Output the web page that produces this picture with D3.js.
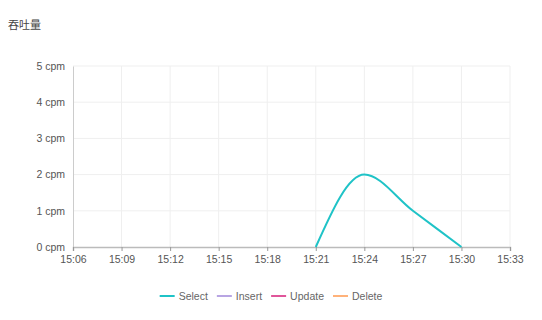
<!DOCTYPE html>
<html>
<head>
<meta charset="utf-8">
<script src="https://cdn.jsdelivr.net/npm/d3@7"></script>
<style>
  body { margin: 0; background: #fff; font-family: "Liberation Sans", Arial, "Noto Sans CJK SC", sans-serif; }
  .axis text { fill: #555; font-size: 10.5px; font-family: "Liberation Sans", Arial, sans-serif; }
</style>
</head>
<body>
<div id="chart"></div>
<script>
// data
const seriesNames = ['Select', 'Insert', 'Update', 'Delete'];
const seriesColors = ['#1fc3c7', '#b8a5e3', '#e0559a', '#ffb27a'];
const selectTimes = ['15:21', '15:24', '15:27', '15:30'];
const selectValues = [0, 2, 1, 0];
const xTickLabels = ['15:06', '15:09', '15:12', '15:15', '15:18', '15:21', '15:24', '15:27', '15:30', '15:33'];
const yTickValues = [0, 1, 2, 3, 4, 5];

const W = 542, H = 320;
const margin = { top: 66, right: 32, bottom: 73, left: 73 };
const width = W - margin.left - margin.right;
const height = H - margin.top - margin.bottom;

const parse = d3.timeParse('%H:%M');

const svg = d3.select('#chart').append('svg')
  .attr('width', W)
  .attr('height', H);

// title
svg.append('text')
  .attr('x', 8)
  .attr('y', 29)
  .attr('font-size', '11px')
  .attr('fill', '#444')
  .attr('font-family', '"Noto Sans CJK SC", sans-serif')
  .text('吞吐量');

const g = svg.append('g')
  .attr('transform', `translate(${margin.left}, ${margin.top})`);

const x = d3.scaleTime()
  .domain([parse(xTickLabels[0]), parse(xTickLabels[xTickLabels.length - 1])])
  .range([0, width]);

const y = d3.scaleLinear()
  .domain([0, 5])
  .range([height, 0]);

const xTicks = xTickLabels.map(parse);

// grid
g.append('g')
  .selectAll('line.v')
  .data(xTicks.slice(1))
  .enter().append('line')
  .attr('x1', d => x(d)).attr('x2', d => x(d))
  .attr('y1', 0).attr('y2', height)
  .attr('stroke', '#efefef');

g.append('g')
  .selectAll('line.h')
  .data(yTickValues.slice(1))
  .enter().append('line')
  .attr('x1', 0).attr('x2', width)
  .attr('y1', d => y(d)).attr('y2', d => y(d))
  .attr('stroke', '#efefef');

// y axis
const yAxis = g.append('g')
  .attr('class', 'axis')
  .call(d3.axisLeft(y).tickValues(yTickValues).tickSize(0).tickPadding(8).tickFormat(d => d + ' cpm'));
yAxis.select('.domain').attr('stroke', '#ccc');

// x axis
const xAxis = g.append('g')
  .attr('class', 'axis')
  .attr('transform', `translate(0, ${height})`)
  .call(d3.axisBottom(x).tickValues(xTicks).tickSize(4).tickPadding(5).tickFormat(d3.timeFormat('%H:%M')));
xAxis.select('.domain').attr('stroke', '#bbb').attr('stroke-width', 1.5);
xAxis.selectAll('.tick line').attr('stroke', '#999');

// select line
const line = d3.line()
  .x(d => x(d.t))
  .y(d => y(d.v))
  .curve(d3.curveMonotoneX);

const selectData = selectTimes.map((t, i) => ({ t: parse(t), v: selectValues[i] }));

g.append('path')
  .datum(selectData)
  .attr('fill', 'none')
  .attr('stroke', seriesColors[0])
  .attr('stroke-width', 2)
  .attr('d', line);

// legend, laid out from text widths and centred
const legend = svg.append('g')
  .attr('transform', 'translate(0, 296)');

let cursor = 0;
seriesNames.forEach((name, i) => {
  const row = legend.append('g')
    .attr('transform', `translate(${cursor}, 0)`);
  row.append('line')
    .attr('x1', 0).attr('x2', 15)
    .attr('y1', 0).attr('y2', 0)
    .attr('stroke', seriesColors[i])
    .attr('stroke-width', 2);
  const label = row.append('text')
    .attr('x', 19)
    .attr('y', 4)
    .attr('font-size', '10.5px')
    .attr('fill', '#666')
    .text(name);
  cursor += 19 + label.node().getComputedTextLength() + 9;
});
const legendWidth = cursor - 9;
legend.attr('transform', `translate(${271 - legendWidth / 2}, 296)`);
</script>
</body>
</html>
